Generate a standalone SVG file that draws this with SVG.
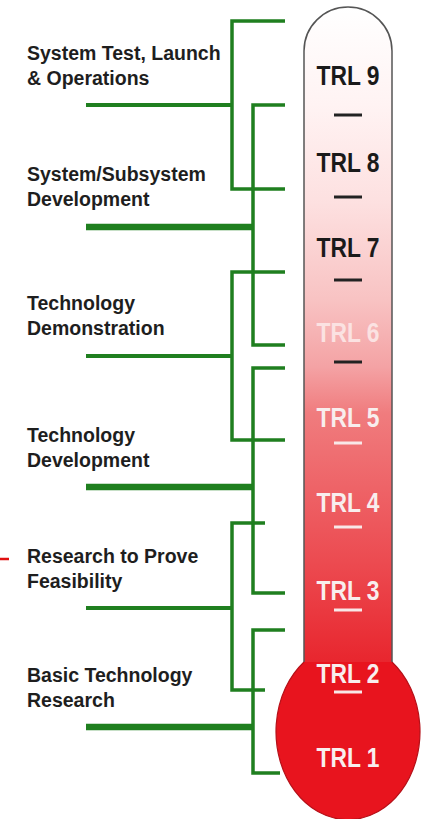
<svg xmlns="http://www.w3.org/2000/svg" width="422" height="819" viewBox="0 0 422 819">
  <style>
    .lbl { font-family: "Liberation Sans", Arial, sans-serif; font-weight: bold; font-size: 19.5px; fill: #1e1e1e; }
    .trl { font-family: "Liberation Sans", Arial, sans-serif; font-weight: bold; font-size: 27.5px; text-anchor: middle; }
    .dark { fill: #1a1a1a; }
    .light { fill: #fbe2e2; }
    .white { fill: #f8eeee; }
    .g { stroke: #1f7f1f; fill: none; stroke-width: 3.5; stroke-linecap: butt; stroke-linejoin: miter; }
    .gt { stroke: #1f7f1f; fill: none; stroke-width: 4; }
    .gk { stroke: #1f7f1f; fill: none; stroke-width: 6.5; }
    .dd { stroke: #222; stroke-width: 3; }
    .dw { stroke: #f8e8e8; stroke-width: 3; }
  </style>
  <defs>
    <linearGradient id="tubeGrad" gradientUnits="userSpaceOnUse" x1="0" y1="7" x2="0" y2="662">
      <stop offset="0" stop-color="#ffffff"/>
      <stop offset="0.15" stop-color="#fff3f3"/>
      <stop offset="0.3" stop-color="#fde0e0"/>
      <stop offset="0.45" stop-color="#f8c2c2"/>
      <stop offset="0.55" stop-color="#f4a2a4"/>
      <stop offset="0.62" stop-color="#f07c7e"/>
      <stop offset="0.85" stop-color="#ec4a50"/>
      <stop offset="1" stop-color="#e8262e"/>
    </linearGradient>
  </defs>

  <g id="thermometer">
    <path d="M304,662 V51 A44,44 0 0 1 392,51 V662 Z" fill="url(#tubeGrad)" stroke="none"/>
    <path d="M304,662 V51 A44,44 0 0 1 392,51 V662" fill="none" stroke="#555" stroke-width="1.5"/>
    <path d="M304,662 A72,88 0 1 0 392,662 Z" fill="#e8141e" stroke="none"/>
    <path d="M304,662 A72,88 0 1 0 392,662" fill="none" stroke="#b51018" stroke-width="1.2"/>
  </g>

  <g id="trl-levels">
    <text class="trl dark" x="348" y="85" textLength="63" lengthAdjust="spacingAndGlyphs">TRL 9</text>
    <line class="dd" x1="334" y1="115" x2="362" y2="115"/>
    <text class="trl dark" x="348" y="172" textLength="63" lengthAdjust="spacingAndGlyphs">TRL 8</text>
    <line class="dd" x1="334" y1="197" x2="362" y2="197"/>
    <text class="trl dark" x="348" y="257" textLength="63" lengthAdjust="spacingAndGlyphs">TRL 7</text>
    <line class="dd" x1="334" y1="280" x2="362" y2="280"/>
    <text class="trl light" x="348" y="342" textLength="63" lengthAdjust="spacingAndGlyphs">TRL 6</text>
    <line class="dd" x1="334" y1="362" x2="362" y2="362"/>
    <text class="trl white" x="348" y="427" textLength="63" lengthAdjust="spacingAndGlyphs">TRL 5</text>
    <line class="dw" x1="334" y1="443" x2="362" y2="443"/>
    <text class="trl white" x="348" y="512" textLength="63" lengthAdjust="spacingAndGlyphs">TRL 4</text>
    <line class="dw" x1="334" y1="527" x2="362" y2="527"/>
    <text class="trl white" x="348" y="600" textLength="63" lengthAdjust="spacingAndGlyphs">TRL 3</text>
    <line class="dw" x1="334" y1="610" x2="362" y2="610"/>
    <text class="trl white" x="348" y="683" textLength="63" lengthAdjust="spacingAndGlyphs">TRL 2</text>
    <line class="dw" x1="334" y1="692" x2="362" y2="692"/>
    <text class="trl white" x="348" y="767" textLength="63" lengthAdjust="spacingAndGlyphs">TRL 1</text>
  </g>

  <g id="connectors">
    <path class="g" d="M285,21 H232 V189 H285"/>
    <line class="gt" x1="86" y1="105" x2="232" y2="105"/>
    <path class="g" d="M285,105 H253 V345 H285"/>
    <line class="gk" x1="86" y1="227" x2="253" y2="227"/>
    <path class="g" d="M285,272 H232 V440 H285"/>
    <line class="gt" x1="86" y1="356" x2="232" y2="356"/>
    <path class="g" d="M285,368 H253 V593 H285"/>
    <line class="gk" x1="86" y1="487" x2="253" y2="487"/>
    <path class="g" d="M265,523 H232 V690 H265"/>
    <line class="gt" x1="86" y1="608" x2="232" y2="608"/>
    <path class="g" d="M285,630 H253 V773 H280"/>
    <line class="gk" x1="86" y1="727" x2="253" y2="727"/>
  </g>

  <g id="label-system-test">
    <text class="lbl" x="27" y="60">System Test, Launch</text>
    <text class="lbl" x="27" y="85">&amp; Operations</text>
  </g>
  <g id="label-system-subsystem">
    <text class="lbl" x="27" y="181">System/Subsystem</text>
    <text class="lbl" x="27" y="206">Development</text>
  </g>
  <g id="label-tech-demo">
    <text class="lbl" x="27" y="310">Technology</text>
    <text class="lbl" x="27" y="335">Demonstration</text>
  </g>
  <g id="label-tech-dev">
    <text class="lbl" x="27" y="442">Technology</text>
    <text class="lbl" x="27" y="467">Development</text>
  </g>
  <g id="label-research-feasibility">
    <text class="lbl" x="27" y="563">Research to Prove</text>
    <text class="lbl" x="27" y="588">Feasibility</text>
    <line x1="0" y1="559" x2="9" y2="559" stroke="#e01010" stroke-width="2.5"/>
  </g>
  <g id="label-basic-research">
    <text class="lbl" x="27" y="682">Basic Technology</text>
    <text class="lbl" x="27" y="707">Research</text>
  </g>
</svg>
